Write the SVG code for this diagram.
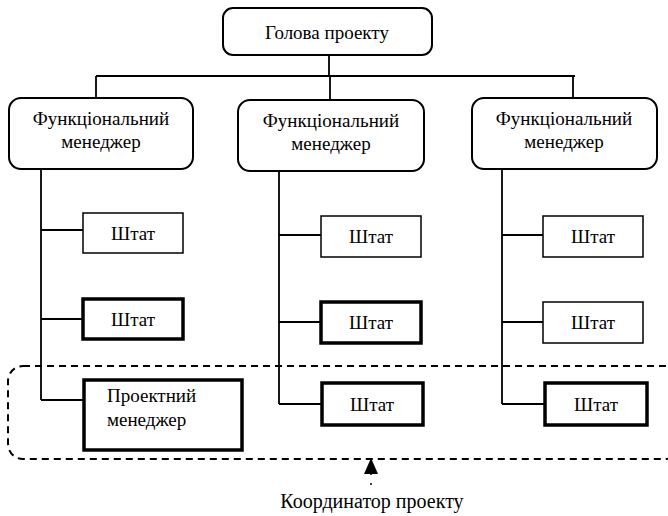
<svg xmlns="http://www.w3.org/2000/svg" width="668" height="516" viewBox="0 0 668 516">
<style>
.rr{fill:#fff;stroke:#000;stroke-width:2}
.box{fill:#fff;stroke:#000;stroke-width:1.5}
.bold{fill:#fff;stroke:#000;stroke-width:3.5}
.ln{fill:none;stroke:#000;stroke-width:1.8}
.dash{fill:none;stroke:#000;stroke-width:2;stroke-dasharray:7 5}
</style>
<rect width="668" height="516" fill="#fff"/>
<g id="connectors">
<path class="ln" d="M329,55 V76 M96,76 H575 M96,76 V98 M330,76 V100 M573,76 V98"/>
<path class="ln" d="M41,169 V400 M41,230 H83 M41,319 H83 M41,400 H84"/>
<path class="ln" d="M279,171 V404 M279,235 H321 M279,322 H321 M279,404 H322"/>
<path class="ln" d="M502,169 V404 M502,235 H543 M502,322 H543 M502,404 H545"/>
<rect class="dash" x="8" y="366" width="672" height="93" rx="15"/>
<path d="M371,485 V473" fill="none" stroke="#000" stroke-width="1.5" stroke-dasharray="2 8"/>
<path d="M364,474 L371,458 L378,474 Z" fill="#000"/>
</g>
<g font-family="'Liberation Serif', 'Times New Roman', serif" font-size="19" text-anchor="middle" fill="#000">
<g id="head"><rect class="rr" x="223" y="8" width="209" height="47" rx="10"/><text x="327" y="39">Голова проекту</text></g>
<g id="fm1"><rect class="rr" x="9" y="98" width="184" height="71" rx="12"/><text x="101" y="125">Функціональний</text><text x="101" y="148">менеджер</text></g>
<g id="fm2"><rect class="rr" x="238" y="100" width="186" height="71" rx="12"/><text x="331" y="127">Функціональний</text><text x="331" y="150">менеджер</text></g>
<g id="fm3"><rect class="rr" x="472" y="98" width="185" height="71" rx="12"/><text x="564" y="125">Функціональний</text><text x="564" y="148">менеджер</text></g>
<g id="s11"><rect class="box" x="83" y="213" width="100" height="40"/><text x="133" y="240">Штат</text></g>
<g id="s12"><rect class="bold" x="83" y="299" width="100" height="40"/><text x="133" y="326">Штат</text></g>
<g id="pm"><rect class="bold" x="84" y="380" width="158" height="70"/><text x="107" y="402" text-anchor="start">Проектний</text><text x="107" y="426" text-anchor="start">менеджер</text></g>
<g id="s21"><rect class="box" x="321" y="216" width="100" height="41"/><text x="371" y="243">Штат</text></g>
<g id="s22"><rect class="bold" x="321" y="302" width="100" height="41"/><text x="371" y="329">Штат</text></g>
<g id="s23"><rect class="bold" x="322" y="383" width="101" height="42"/><text x="372" y="411">Штат</text></g>
<g id="s31"><rect class="box" x="543" y="216" width="100" height="41"/><text x="593" y="243">Штат</text></g>
<g id="s32"><rect class="box" x="543" y="302" width="100" height="41"/><text x="593" y="329">Штат</text></g>
<g id="s33"><rect class="bold" x="545" y="383" width="102" height="42"/><text x="596" y="411">Штат</text></g>
<g id="coord"><text x="372" y="508" font-size="20">Координатор проекту</text></g>
</g>
</svg>
